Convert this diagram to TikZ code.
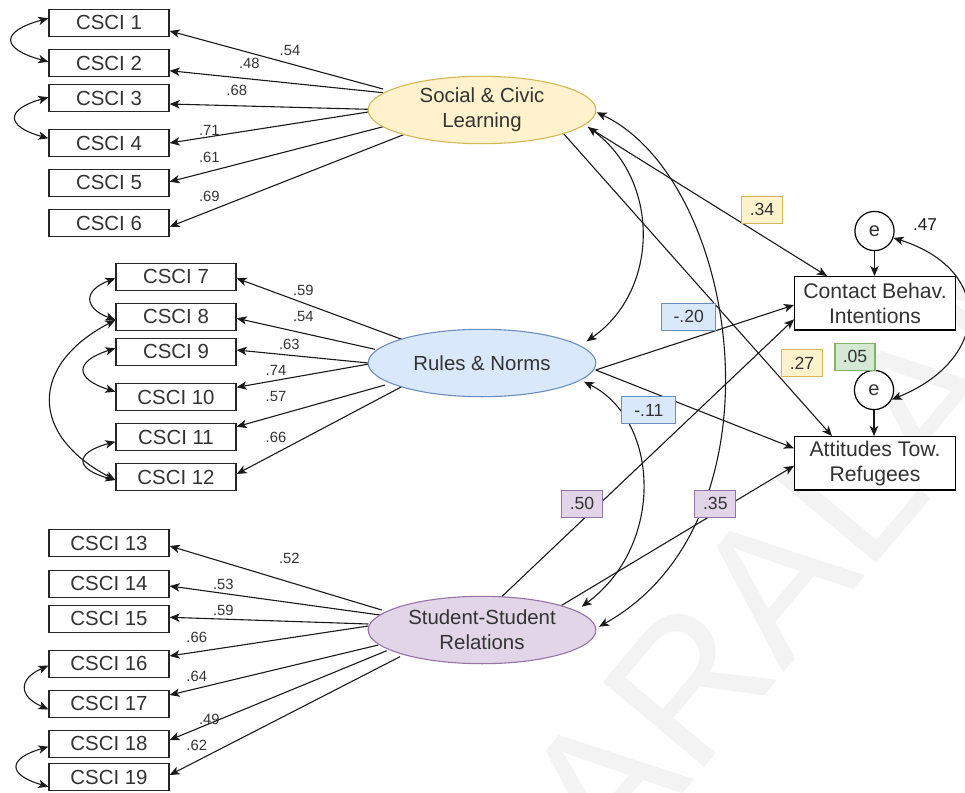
\documentclass[tikz,border=0pt]{standalone}
\usepackage{fontspec}
\setmainfont{Liberation Sans}
\usetikzlibrary{arrows.meta,shapes.geometric}
\definecolor{txt}{HTML}{333333}
\definecolor{ylwF}{HTML}{FFF2CC}\definecolor{ylwD}{HTML}{D6B656}
\definecolor{bluF}{HTML}{DAE8FC}\definecolor{bluD}{HTML}{6C8EBF}
\definecolor{prpF}{HTML}{E1D5E7}\definecolor{prpD}{HTML}{9673A6}
\definecolor{grnF}{HTML}{D5E8D4}\definecolor{grnD}{HTML}{82B366}
\definecolor{wmark}{HTML}{F3F3F3}
\pgfdeclarelayer{wm}
\pgfdeclarelayer{edges}
\pgfsetlayers{wm,edges,main}
\begin{document}
\begin{tikzpicture}[x=0.5pt,y=-0.5pt,
  tip/.tip={Stealth[length=5pt,width=4.2pt,inset=1.3pt]},
  ind/.style={draw=black!85, line width=0.65pt, fill=white, minimum width=60pt,
    minimum height=13.5pt, inner sep=0pt, font=\fontsize{10.2}{12}\selectfont, text=txt},
  latent/.style={ellipse, line width=0.55pt, minimum width=113.8pt, minimum height=33.7pt,
    inner sep=0pt, align=center, font=\fontsize{10.2}{12.5}\selectfont, text=txt},
  outc/.style={draw=black, line width=0.65pt, fill=white, minimum width=80.3pt,
    minimum height=26.6pt, inner sep=0pt, align=center,
    font=\fontsize{10.6}{12.5}\selectfont, text=txt},
  err/.style={circle, draw=black, line width=0.6pt, fill=white, minimum size=19.6pt,
    inner sep=0pt, font=\fontsize{10}{12}\selectfont, text=txt},
  coef/.style={line width=0.6pt, minimum height=13.5pt, inner sep=0pt,
    font=\fontsize{8.8}{10}\selectfont, text=txt},
  ld/.style={font=\fontsize{7.4}{9}\selectfont, text=txt, inner sep=0pt},
  arr/.style={-tip, line width=0.55pt, draw=black!90},
  dbl/.style={tip-tip, line width=0.55pt, draw=black!90},
]
\useasboundingbox (0,0) rectangle (965,793);
\clip (0,0) rectangle (965,793);

% faint lettering in the lower right corner
\begin{pgfonlayer}{wm}
\node[rotate=50, anchor=base west, inner sep=0pt, text=wmark,
  font=\fontsize{96}{96}\selectfont] (wmtext) at (612,878) {ARALAN};
\end{pgfonlayer}

% indicators
\node[ind] (c1) at (109,22.7) {CSCI 1};
\node[ind] (c2) at (109,63) {CSCI 2};
\node[ind] (c3) at (109,98) {CSCI 3};
\node[ind] (c4) at (109,143) {CSCI 4};
\node[ind] (c5) at (109,182.7) {CSCI 5};
\node[ind] (c6) at (109,223) {CSCI 6};
\node[ind] (c7) at (176,276.7) {CSCI 7};
\node[ind] (c8) at (176,316.7) {CSCI 8};
\node[ind] (c9) at (176,351.7) {CSCI 9};
\node[ind] (c10) at (176,397) {CSCI 10};
\node[ind] (c11) at (176,437) {CSCI 11};
\node[ind] (c12) at (176,477) {CSCI 12};
\node[ind] (c13) at (109,543.3) {CSCI 13};
\node[ind] (c14) at (109,583.7) {CSCI 14};
\node[ind] (c15) at (109,618.7) {CSCI 15};
\node[ind] (c16) at (109,663.7) {CSCI 16};
\node[ind] (c17) at (109,703.7) {CSCI 17};
\node[ind] (c18) at (109,743.7) {CSCI 18};
\node[ind] (c19) at (109,777) {CSCI 19};

% latent factors
\node[latent, fill=ylwF, draw=ylwD] (SCL) at (482,110) {Social \& Civic\\Learning};
\node[latent, fill=bluF, draw=bluD] (RN) at (482,363) {Rules \& Norms};
\node[latent, fill=prpF, draw=prpD] (SSR) at (482,630) {Student-Student\\Relations};

% outcomes and their residuals
\node[outc] (CBI) at (875,303.3) {Contact Behav.\\Intentions};
\node[outc] (ATR) at (875,463.3) {Attitudes Tow.\\Refugees};
\node[err] (e1) at (874.5,231) {e};
\node[err] (e2) at (874,390) {e};

\begin{pgfonlayer}{edges}
% loadings: Social & Civic Learning
\draw[arr] ([shift={(-99,-21)}]SCL.center) -- ([shift={(0,8.3)}]c1.east);
\draw[arr] ([shift={(-99,-17.3)}]SCL.center) -- ([shift={(0,7.7)}]c2.east);
\draw[arr] ([shift={(-113.7,-0.7)}]SCL.center) -- ([shift={(0,6)}]c3.east);
\draw[arr] ([shift={(-112,1.7)}]SCL.center) -- ([shift={(0,0)}]c4.east);
\draw[arr] ([shift={(-98.7,16.7)}]SCL.center) -- ([shift={(0,-1)}]c5.east);
\draw[arr] ([shift={(-78,24.5)}]SCL.center) -- ([shift={(0,3.7)}]c6.east);
% loadings: Rules & Norms
\draw[arr] ([shift={(-80.3,-23.7)}]RN.center) -- ([shift={(0,1.6)}]c7.east);
\draw[arr] ([shift={(-107,-13.7)}]RN.center) -- ([shift={(0,1.6)}]c8.east);
\draw[arr] ([shift={(-113.7,0)}]RN.center) -- ([shift={(0,-1.7)}]c9.east);
\draw[arr] ([shift={(-113,1)}]RN.center) -- ([shift={(0,-9.7)}]c10.east);
\draw[arr] ([shift={(-97,22)}]RN.center) -- ([shift={(0,-10.3)}]c11.east);
\draw[arr] ([shift={(-80.3,23.7)}]RN.center) -- ([shift={(0,-3)}]c12.east);
% loadings: Student-Student Relations
\draw[arr] ([shift={(-100.3,-20)}]SSR.center) -- ([shift={(0,2.7)}]c13.east);
\draw[arr] ([shift={(-102,-15)}]SSR.center) -- ([shift={(0,2.3)}]c14.east);
\draw[arr] ([shift={(-113.7,-6)}]SSR.center) -- ([shift={(0,-1.4)}]c15.east);
\draw[arr] ([shift={(-113.7,-4)}]SSR.center) -- ([shift={(0,-7.7)}]c16.east);
\draw[arr] ([shift={(-103.7,15)}]SSR.center) -- ([shift={(0,-8.7)}]c17.east);
\draw[arr] ([shift={(-95.3,20.7)}]SSR.center) -- ([shift={(0,-3.7)}]c18.east);
\draw[arr] ([shift={(-82,26.7)}]SSR.center) -- ([shift={(0,-2)}]c19.east);

% residual covariances between indicators
\draw[dbl] ([shift={(0,-4.4)}]c1.west) .. controls +(-48,13) and +(-48,-13) .. ([shift={(0,-1.3)}]c2.west);
\draw[dbl] ([shift={(0,-0.7)}]c3.west) .. controls +(-43,12) and +(-43,-12) .. ([shift={(0,-4.7)}]c4.west);
\draw[dbl] ([shift={(0,1.6)}]c7.west) .. controls +(-32,12) and +(-32,-12) .. ([shift={(0,3.3)}]c8.west);
\draw[dbl] ([shift={(0,-3.4)}]c9.west) .. controls +(-41,13) and +(-41,-13) .. ([shift={(0,-5.3)}]c10.west);
\draw[dbl] ([shift={(0,3.3)}]c8.west) .. controls +(-86,45) and +(-86,-45) .. ([shift={(0,3)}]c12.west);
\draw[dbl] ([shift={(0,4.7)}]c11.west) .. controls +(-41,11) and +(-41,-11) .. ([shift={(0,3)}]c12.west);
\draw[dbl] ([shift={(0,2)}]c16.west) .. controls +(-30,13) and +(-30,-13) .. ([shift={(0,5.6)}]c17.west);
\draw[dbl] ([shift={(0,3)}]c18.west) .. controls +(-41,12) and +(-41,-12) .. ([shift={(0,9.7)}]c19.west);

% structural paths
\draw[arr] ([shift={(106,17)}]SCL.center) -- ([shift={(-48,0)}]CBI.north);
\draw[arr] ([shift={(81,23)}]SCL.center) -- ([shift={(-43,0)}]ATR.north);
\draw[arr] ([shift={(113.7,7)}]RN.center) -- ([shift={(0,1.7)}]CBI.west);
\draw[arr] ([shift={(113.7,7)}]RN.center) -- ([shift={(0,-15)}]ATR.west);
\draw[arr] ([shift={(19.7,-33.3)}]SSR.center) -- ([shift={(0,16)}]CBI.west);
\draw[arr] ([shift={(74.7,-21.7)}]SSR.center) -- ([shift={(0,2.5)}]ATR.west);

% factor covariances
\draw[dbl] ([shift={(106,17)}]SCL.center) .. controls (660,180) and (660,290) .. ([shift={(104.7,-21.7)}]RN.center);
\draw[dbl] ([shift={(102,18.7)}]RN.center) .. controls (660,420) and (665,545) .. ([shift={(99.7,-23.3)}]SSR.center);
\draw[dbl] ([shift={(114.7,2.3)}]SCL.center) .. controls (740,180) and (790,520) .. ([shift={(117,-3.3)}]SSR.center);

% residuals
\draw[arr] (e1.south) -- (CBI.north -| e1.south);
\draw[arr] (e2.south) -- (ATR.north -| e2.south);
\draw[dbl] (e1.-20) .. controls (995,270) and (990,360) .. (e2.-28);
\end{pgfonlayer}

% loading values
\node[ld] (l1) at (290,50) {.54};
\node[ld] (l2) at (249.3,63.3) {.48};
\node[ld] (l3) at (236.7,90) {.68};
\node[ld] (l4) at (209.3,130.7) {.71};
\node[ld] (l5) at (209.3,157.3) {.61};
\node[ld] (l6) at (209.3,196.7) {.69};
\node[ld] (l7) at (303.3,290) {.59};
\node[ld] (l8) at (303.3,316.7) {.54};
\node[ld] (l9) at (289.3,344) {.63};
\node[ld] (l10) at (276,370.7) {.74};
\node[ld] (l11) at (276,396.7) {.57};
\node[ld] (l12) at (276,437.3) {.66};
\node[ld] (l13) at (289.3,558.3) {.52};
\node[ld] (l14) at (223.3,584.3) {.53};
\node[ld] (l15) at (223.3,610.7) {.59};
\node[ld] (l16) at (196.7,637.3) {.66};
\node[ld] (l17) at (196.7,676.7) {.64};
\node[ld] (l18) at (209.3,719.3) {.49};
\node[ld] (l19) at (196.7,745) {.62};

% path coefficients
\node[coef, fill=ylwF, draw=ylwD, minimum width=20.5pt] (k34) at (762,209.7) {.34};
\node[coef, fill=bluF, draw=bluD, minimum width=27pt] (k20) at (688.7,316.7) {-.20};
\node[coef, fill=ylwF, draw=ylwD, minimum width=20.5pt] (k27) at (802,363.3) {.27};
\node[coef, fill=grnF, draw=grnD, minimum width=20pt] (k05) at (855,356.7) {.05};
\node[coef, fill=bluF, draw=bluD, minimum width=27pt] (k11) at (648.8,410.3) {-.11};
\node[coef, fill=prpF, draw=prpD, minimum width=20.5pt] (k50) at (582,503.7) {.50};
\node[coef, fill=prpF, draw=prpD, minimum width=20.5pt] (k35) at (715.3,503.7) {.35};
\node[font=\fontsize{8.6}{10}\selectfont, text=black!90, inner sep=0pt] (k47) at (925,225) {.47};
\end{tikzpicture}
\end{document}
